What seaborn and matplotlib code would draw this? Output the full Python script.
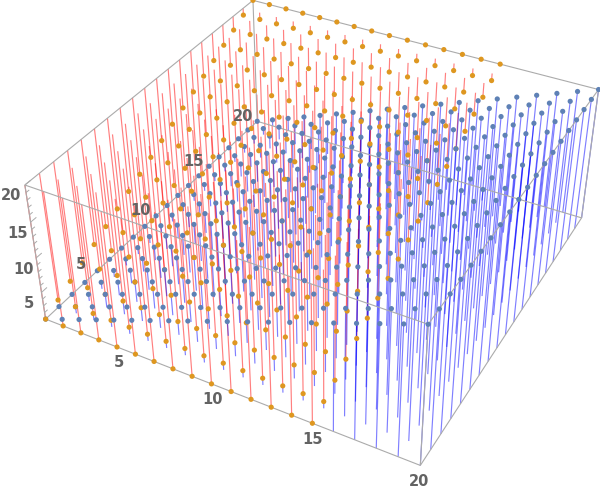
import numpy as np
import pandas as pd
import matplotlib
matplotlib.use("Agg")
import matplotlib.pyplot as plt
import seaborn as sns
from mpl_toolkits.mplot3d import proj3d
from mpl_toolkits.mplot3d.art3d import Line3DCollection

# Values
orange_x = [1, 2, 3, 4, 5, 6, 7, 8, 9, 10, 11, 12, 13, 14, 15]
orange_y = [1, 2, 3, 4, 5, 6, 7, 8, 9, 10, 11, 12, 13, 14, 15, 16, 17, 18, 19, 20]
orange_z_by_y = [1, 2, 3, 4, 5, 6, 7, 8, 9, 10, 11, 12, 13, 14, 15, 16, 17, 18, 19, 20]
blue_x = [1, 2, 3, 4, 5, 6, 7, 8, 9, 10, 11, 12, 13, 14, 15, 16, 17, 18, 19, 20]
blue_y = [1, 2, 3, 4, 5, 6, 7, 8, 9, 10, 11, 12, 13, 14, 15, 16, 17, 18, 19, 20]
blue_z_by_x = [1, 2, 3, 4, 5, 6, 7, 8, 9, 10, 11, 12, 13, 14, 15, 16, 17, 18, 19, 20]
tick_labels = [5, 10, 15, 20]
z_minor_ticks = [2, 3, 4, 6, 7, 8, 9, 11, 12, 13, 14, 16, 17, 18, 19]
box_min = 1
box_max = 20

# where the box corners sit in the picture, used to fit the camera
corner_xyz = [(1, 1, 1), (20, 1, 1), (20, 20, 1), (1, 20, 1),
              (1, 1, 20), (20, 1, 20), (20, 20, 20), (1, 20, 20)]
corner_px = [(45.7, 319.3), (420, 465.3), (582, 217), (257, 122),
             (25, 184.3), (428.3, 325), (598.3, 90), (253, 0)]

sns.set_style("white")
dot_colors = {"orange": "#DE9720", "blue": "#5E81B5"}

orange = pd.DataFrame([(x, y, orange_z_by_y[i]) for x in orange_x
                       for i, y in enumerate(orange_y)], columns=["x", "y", "z"])
blue = pd.DataFrame([(x, y, blue_z_by_x[i]) for i, x in enumerate(blue_x)
                     for y in blue_y], columns=["x", "y", "z"])
orange["color"] = dot_colors["orange"]
blue["color"] = dot_colors["blue"]
points = pd.concat([orange, blue], ignore_index=True)

fig = plt.figure(figsize=(6, 4.91), dpi=100)
ax = fig.add_axes([0, -0.111, 1, 1.222], projection="3d", computed_zorder=False)
ax.set_axis_off()
ax.patch.set_visible(False)
ax.apply_aspect()

# fit a camera matrix to the corners
px = np.array(corner_px)
view = ax.transData.inverted().transform(np.c_[px[:, 0], 491 - px[:, 1]])
scale = np.abs(view).max()
rows = []
for (X, Y, Z), (u, v) in zip(corner_xyz, view / scale):
    rows.append([X, Y, Z, 1, 0, 0, 0, 0, -u * X, -u * Y, -u * Z, -u])
    rows.append([0, 0, 0, 0, X, Y, Z, 1, -v * X, -v * Y, -v * Z, -v])
cam = np.linalg.svd(np.array(rows))[2][-1].reshape(3, 4)
if cam[2] @ np.array([10, 10, 10, 1]) < 0:
    cam = -cam
cam[:2] *= scale
M = np.array([cam[0], cam[1], [0, 0, 0, -1], cam[2]])
ax.get_proj = lambda: M

# stems: orange goes up to the top of the box, blue down to the bottom.
# where both share a column the red one wins
orange_stems = [[(r.x, r.y, r.z), (r.x, r.y, box_max)] for r in orange.itertuples() if r.z < box_max]
blue_stems = []
for r in blue.itertuples():
    top = r.z
    if r.x in orange_x:
        top = min(top, orange_z_by_y[orange_y.index(r.y)])
    if top > box_min:
        blue_stems.append([(r.x, r.y, top), (r.x, r.y, box_min)])
ax.add_collection3d(Line3DCollection(orange_stems, colors=(1, 0, 0, 0.5), linewidths=0.85, zorder=2))
ax.add_collection3d(Line3DCollection(blue_stems, colors=(0, 0, 1, 0.5), linewidths=0.85, zorder=2))

# box
frame = "#ababab"
lo, hi = box_min, box_max
edges = [[(lo, lo, lo), (hi, lo, lo)], [(hi, lo, lo), (hi, hi, lo)], [(hi, hi, lo), (lo, hi, lo)],
         [(lo, hi, lo), (lo, lo, lo)], [(lo, lo, hi), (hi, lo, hi)], [(hi, lo, hi), (hi, hi, hi)],
         [(hi, hi, hi), (lo, hi, hi)], [(lo, hi, hi), (lo, lo, hi)], [(lo, lo, lo), (lo, lo, hi)],
         [(hi, lo, lo), (hi, lo, hi)], [(hi, hi, lo), (hi, hi, hi)], [(lo, hi, lo), (lo, hi, hi)]]
ax.add_collection3d(Line3DCollection(edges, colors=frame, linewidths=0.8, zorder=2.5))

# z axis ticks on the left edge
z_ticks = [[(lo, lo, t), (lo, lo + 0.4, t)] for t in tick_labels]
z_ticks += [[(lo, lo, t), (lo, lo + 0.22, t)] for t in z_minor_ticks]
ax.add_collection3d(Line3DCollection(z_ticks, colors=frame, linewidths=0.7, zorder=2.5))

ax.scatter(points["x"], points["y"], points["z"], c=points["color"], s=14,
           depthshade=False, linewidths=0, zorder=3)

# tick labels
font = dict(color="#636363", fontsize=10.5, fontweight="bold", ha="center", va="center", zorder=4)


def label(x, y, z, text):
    u, v, _ = proj3d.proj_transform(x, y, z, M)
    ax.text2D(u, v, text, transform=ax.transData, **font)


for t in tick_labels:
    label(t, 1, -1.35, str(t))
    label(0.05, t, 1, str(t))
    label(1, 0.1, t, str(t))

ax.set_xlim(lo, hi)
ax.set_ylim(lo, hi)
ax.set_zlim(lo, hi)

fig.savefig("out.png", dpi=100)
